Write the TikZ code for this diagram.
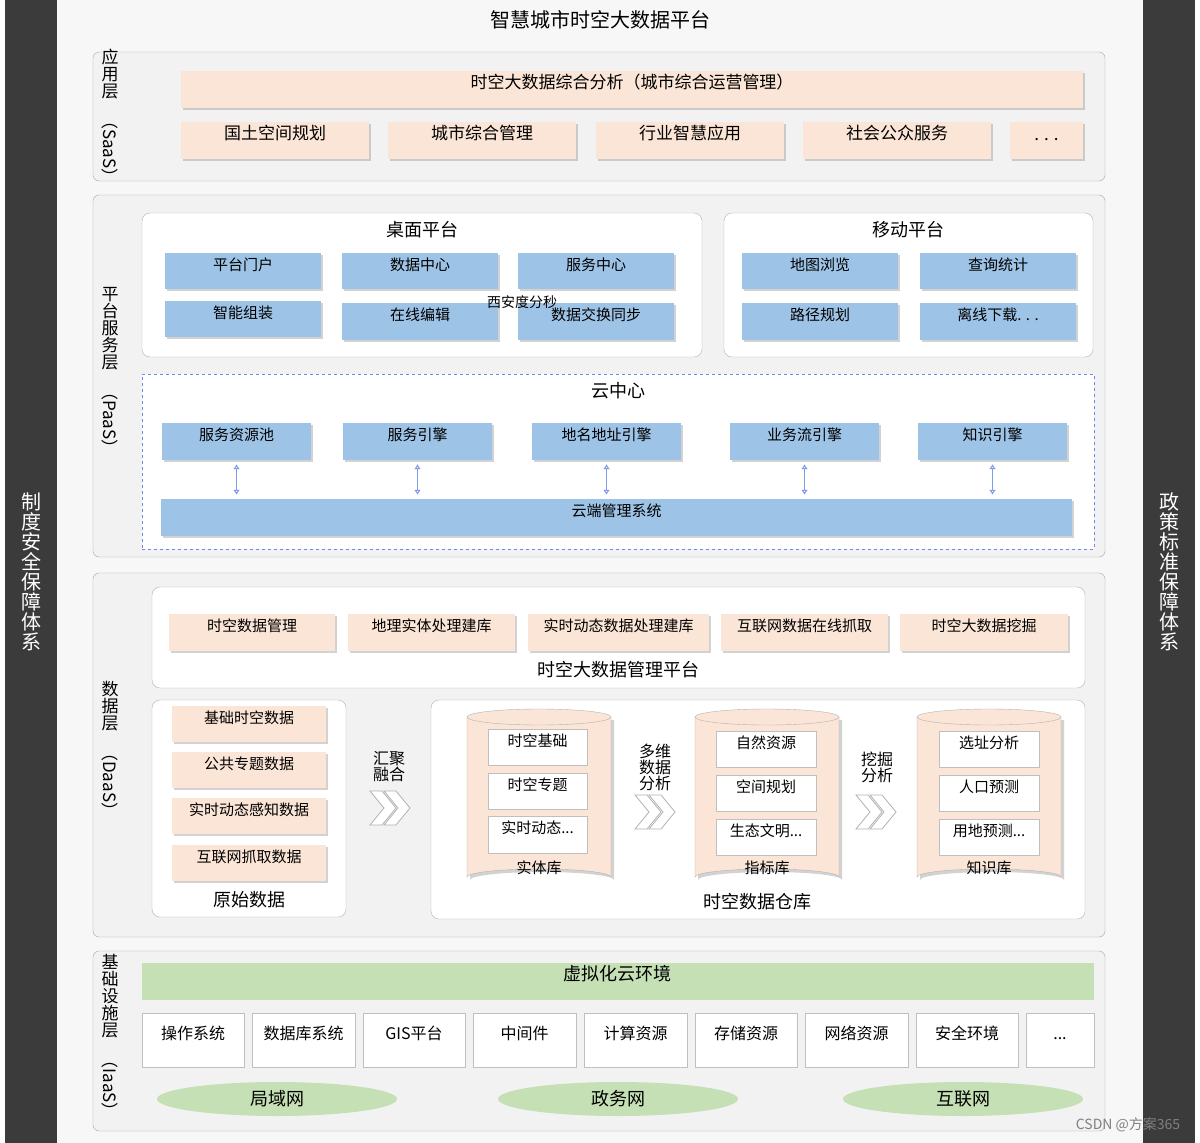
\documentclass[tikz,border=0pt]{standalone}
\usepackage{fontspec}
\setmainfont{Noto Sans CJK SC}
\usepackage{graphicx}
\usetikzlibrary{fit,shadows,arrows.meta}
\definecolor{peach}{HTML}{FBE5D6}
\definecolor{bluebox}{HTML}{9DC3E6}
\definecolor{greenbox}{HTML}{C5E0B4}
\definecolor{layerbg}{HTML}{F2F2F2}
\definecolor{darkbar}{HTML}{3B3B3B}
\newcommand{\fs}[1]{\fontsize{#1}{#1}\selectfont}
\tikzset{
 x=1pt,y=-1pt,
 shd/.style={drop shadow={shadow xshift=2pt,shadow yshift=-2pt,opacity=0.35,fill=gray}},
 layer/.style={draw=gray!70,fill=layerbg,rounded corners=6pt,inner sep=0},
 panel/.style={draw=gray!60,fill=white,rounded corners=8pt,inner sep=0},
 pbox/.style={fill=peach,inner sep=0,shd,font=\fs{17}},
 bbox/.style={fill=bluebox,inner sep=0,shd,font=\fs{15}},
 wbox/.style={fill=white,draw=gray!50,inner sep=0,font=\fs{15}},
 gbox/.style={fill=greenbox,inner sep=0,font=\fs{18}},
 ttl/.style={font=\fs{18}},
 vlab/.style={align=center,font=\fs{17},inner sep=0},
 darr/.style={{Latex[open,length=5pt,width=7pt]}-{Latex[open,length=5pt,width=7pt]},draw=bluebox!80!blue,line width=1.2pt},
 chev/.style={fill=white,draw=gray!60,line width=0.8pt},
}
\newcommand{\chevs}[2]{%
 \foreach \dx in {0,14}{\draw[chev] ({#1-20+\dx},{#2-17}) -- ({#1-8+\dx},{#2-17}) -- ({#1+6+\dx},#2) -- ({#1-8+\dx},{#2+17}) -- ({#1-20+\dx},{#2+17}) -- ({#1-6+\dx},#2) -- cycle;}}
\newcommand{\cyl}[4]{% x1 x2 ytop ybot
 \fill[gray!35] ({#1+3},{#3+3}) -- ({#1+3},{#4+3}) arc[x radius={(#2-#1)/2},y radius=8,start angle=180,end angle=360] -- ({#2+3},{#3+3}) -- cycle;
 \draw[fill=peach,draw=gray!60] (#1,#3) -- (#1,#4) arc[x radius={(#2-#1)/2},y radius=8,start angle=180,end angle=360] -- (#2,#3);
 \draw[fill=peach,draw=gray!60] ({(#1+#2)/2},#3) ellipse[x radius={(#2-#1)/2},y radius=8];}
\begin{document}
\begin{tikzpicture}
\useasboundingbox (0,0) rectangle (1200,1143);
\fill[white] (0,0) rectangle (1200,1143);
\fill[layerbg!60] (57,0) rectangle (1143,1143);
\fill[darkbar] (5,0) rectangle (57,1143);
\fill[darkbar] (1143,0) rectangle (1195,1143);
\node[vlab,text=white,font=\fs{20}] (lbar) at (31,572) {制\\度\\安\\全\\保\\障\\体\\系};
\node[vlab,text=white,font=\fs{20}] (rbar) at (1169,572) {政\\策\\标\\准\\保\\障\\体\\系};
\node[font=\fs{20}] (title) at (600,20) {智慧城市时空大数据平台};
% layers
\node[layer,fit={(93,52)(1105,181)}] (saas) {};
\node[layer,fit={(93,195)(1105,557)}] (paas) {};
\node[layer,fit={(93,573)(1105,937)}] (daas) {};
\node[layer,fit={(93,951)(1105,1131)}] (iaas) {};
\node[vlab] (ls) at (110,117) {应\\用\\层\\[-2pt]\rotatebox{-90}{（SaaS）}};
\node[vlab] (lp) at (110,372) {平\\台\\服\\务\\层\\[-2pt]\rotatebox{-90}{（PaaS）}};
\node[vlab] (ld) at (110,750) {数\\据\\层\\[-2pt]\rotatebox{-90}{（DaaS）}};
\node[vlab] (li) at (110,1037) {基\\础\\设\\施\\层\\[-2pt]\rotatebox{-90}{（IaaS）}};
% SaaS
\node[pbox,fit={(181,71)(1083,108)}] (s0) {时空大数据综合分析（城市综合运营管理）};
\node[pbox,fit={(181,122)(369,159)}] (s1) {国土空间规划};
\node[pbox,fit={(388,122)(576,159)}] (s2) {城市综合管理};
\node[pbox,fit={(596,122)(784,159)}] (s3) {行业智慧应用};
\node[pbox,fit={(803,122)(991,159)}] (s4) {社会公众服务};
\node[pbox,fit={(1010,122)(1083,159)}] (s5) {. . .};
% PaaS desktop
\node[panel,fit={(142,213)(702,357)}] (desk) {};
\node[ttl] (deskt) at (422,230) {桌面平台};
\node[bbox,fit={(165,253)(321,289)}] (d1) {平台门户};
\node[bbox,fit={(342,253)(498,289)}] (d2) {数据中心};
\node[bbox,fit={(518,253)(674,289)}] (d3) {服务中心};
\node[bbox,fit={(165,301)(321,337)}] (d4) {智能组装};
\node[bbox,fit={(342,303)(498,340)}] (d5) {在线编辑};
\node[bbox,fit={(518,303)(674,340)}] (d6) {数据交换同步};
\node[font=\fs{14}] (wm) at (522,302) {西安度分秒};
\node[panel,fit={(724,213)(1093,357)}] (mob) {};
\node[ttl] (mobt) at (908,230) {移动平台};
\node[bbox,fit={(742,253)(898,289)}] (m1) {地图浏览};
\node[bbox,fit={(920,253)(1076,289)}] (m2) {查询统计};
\node[bbox,fit={(742,303)(898,340)}] (m3) {路径规划};
\node[bbox,fit={(920,303)(1076,340)}] (m4) {离线下载. . .};
% cloud
\node[draw=bluebox!70!blue,dashed,fill=white,inner sep=0,fit={(142,374)(1094,549)}] (cloud) {};
\node[ttl] (cloudt) at (618,391) {云中心};
\node[bbox,fit={(162,423)(311,460)}] (c1) {服务资源池};
\node[bbox,fit={(343,423)(492,460)}] (c2) {服务引擎};
\node[bbox,fit={(532,423)(681,460)}] (c3) {地名地址引擎};
\node[bbox,fit={(730,423)(879,460)}] (c4) {业务流引擎};
\node[bbox,fit={(918,423)(1067,460)}] (c5) {知识引擎};
\node[bbox,fit={(161,499)(1072,536)}] (cm) {云端管理系统};
\foreach \n in {c1,c2,c3,c4,c5}
  \draw[darr] ([yshift=-4pt]\n.south) -- ([yshift=4pt]\n.south |- cm.north);
% DaaS
\node[panel,fit={(152,587)(1085,688)}] (mgmt) {};
\node[ttl] (mgmtt) at (618,670) {时空大数据管理平台};
\node[pbox,font=\fs{15},fit={(169,614)(335,651)}] (g1) {时空数据管理};
\node[pbox,font=\fs{15},fit={(348,614)(515,651)}] (g2) {地理实体处理建库};
\node[pbox,font=\fs{15},fit={(528,614)(709,651)}] (g3) {实时动态数据处理建库};
\node[pbox,font=\fs{15},fit={(721,614)(888,651)}] (g4) {互联网数据在线抓取};
\node[pbox,font=\fs{15},fit={(900,614)(1068,651)}] (g5) {时空大数据挖掘};
\node[panel,fit={(152,700)(346,917)}] (raw) {};
\node[pbox,font=\fs{15},fit={(172,706)(326,742)}] (r1) {基础时空数据};
\node[pbox,font=\fs{15},fit={(172,752)(326,788)}] (r2) {公共专题数据};
\node[pbox,font=\fs{15},fit={(172,798)(326,834)}] (r3) {实时动态感知数据};
\node[pbox,font=\fs{15},fit={(172,845)(326,881)}] (r4) {互联网抓取数据};
\node[ttl] (rawt) at (249,900) {原始数据};
\node[vlab,font=\fs{16}] (hj) at (389,767) {汇聚\\融合};
\chevs{390}{808}
\node[panel,fit={(431,700)(1085,919)}] (wh) {};
\node[ttl] (wht) at (757,902) {时空数据仓库};
\cyl{467}{611}{717}{877}
\cyl{695}{839}{717}{877}
\cyl{917}{1061}{717}{877}
\node[wbox,fit={(488,729)(587,765)}] (e1) {时空基础};
\node[wbox,fit={(488,773)(587,809)}] (e2) {时空专题};
\node[wbox,fit={(488,816)(587,853)}] (e3) {实时动态...};
\node[font=\fs{15}] (et) at (539,868) {实体库};
\node[wbox,fit={(716,731)(816,767)}] (i1) {自然资源};
\node[wbox,fit={(716,775)(816,811)}] (i2) {空间规划};
\node[wbox,fit={(716,819)(816,855)}] (i3) {生态文明...};
\node[font=\fs{15}] (it) at (767,868) {指标库};
\node[wbox,fit={(939,731)(1039,767)}] (k1) {选址分析};
\node[wbox,fit={(939,775)(1039,811)}] (k2) {人口预测};
\node[wbox,fit={(939,819)(1039,855)}] (k3) {用地预测...};
\node[font=\fs{15}] (kt) at (989,868) {知识库};
\node[vlab,font=\fs{16}] (dw) at (655,767) {多维\\数据\\分析};
\chevs{655}{812}
\node[vlab,font=\fs{16}] (wj) at (877,767) {挖掘\\分析};
\chevs{876}{812}
% IaaS
\node[gbox,fit={(142,963)(1094,1000)}] (virt) {虚拟化云环境};
\foreach \n/\xa/\xb/\t in {i1/142/244/操作系统,i2/252/355/数据库系统,i3/363/465/GIS平台,i4/473/576/中间件,i5/584/687/计算资源,i6/695/797/存储资源,i7/805/908/网络资源,i8/916/1018/安全环境}
  \node[wbox,font=\fs{16},fit={(\xa,1013)(\xb,1067)}] (inf\n) {\t};
\node[wbox,font=\fs{16},fit={(1026,1013)(1094,1067)}] (infi9) {...};
\foreach \c in {277,618,963}
  \fill[greenbox] (\c,1099) ellipse[x radius=120,y radius=17];
\node[font=\fs{18}] (net1) at (277,1099) {局域网};
\node[font=\fs{18}] (net2) at (618,1099) {政务网};
\node[font=\fs{18}] (net3) at (963,1099) {互联网};
\node[font=\fs{14},text=gray] (csdn) at (1128,1125) {CSDN @方案365};
\end{tikzpicture}
\end{document}
